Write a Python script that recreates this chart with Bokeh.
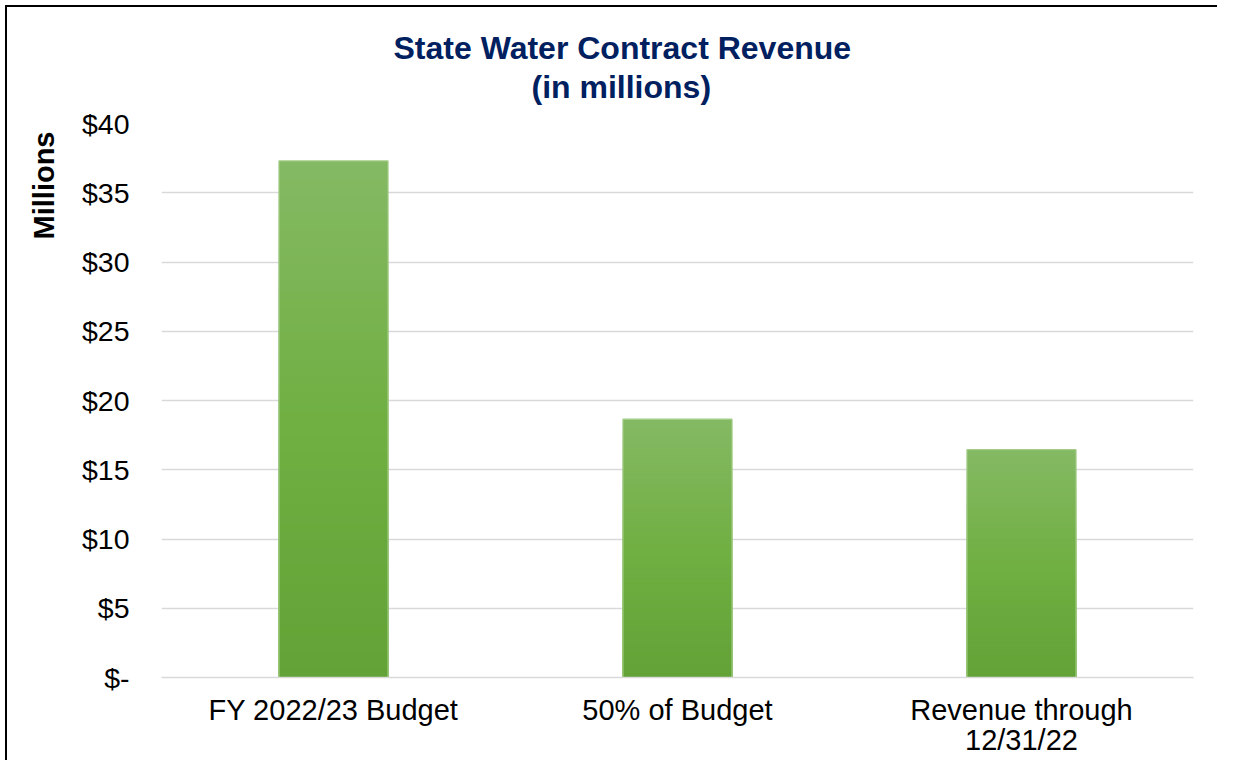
from bokeh.plotting import figure
from bokeh.models import FactorRange, FixedTicker, Title, ColumnDataSource, InlineStyleSheet
from bokeh.embed import file_html
from bokeh.resources import INLINE

categories = ["FY 2022/23 Budget", "50% of Budget", "Revenue through\n12/31/22"]
values = [37.3, 18.65, 16.45]
y_ticks = [0, 5, 10, 15, 20, 25, 30, 35, 40]
y_tick_labels = ["$-", "$5", "$10", "$15", "$20", "$25", "$30", "$35", "$40"]

FONT = "Liberation Sans"

p = figure(x_range=FactorRange(*categories, range_padding=0), y_range=(0, 40),
           width=1217, height=760, output_backend="svg", toolbar_location=None,
           min_border_left=161, min_border_right=24, min_border_top=123, min_border_bottom=83)
p.background_fill_color = "white"
p.border_fill_color = "white"
p.outline_line_color = None
p.stylesheets = [InlineStyleSheet(css=(
    ":host { position: relative; } "
    ":host::after { content: ''; position: absolute; left: 5px; top: 5px; right: 0; bottom: 0; "
    "border-left: 2px solid #000; border-top: 2px solid #000; pointer-events: none; }"))]

# gradient bars: draw full-height first, then progressively shorter darker bars
top_c = (132, 185, 99)
mid_c = (112, 175, 66)
bot_c = (98, 162, 54)
N = 60
def col_at(f):
    if f >= 0.5:
        t = (f - 0.5) / 0.5
        a, b = mid_c, top_c
    else:
        t = f / 0.5
        a, b = bot_c, mid_c
    return "#%02x%02x%02x" % tuple(int(round(a[i] + (b[i] - a[i]) * t)) for i in range(3))

for k in range(N):
    f = (N - k) / N
    src = ColumnDataSource(dict(x=categories, top=[v * f for v in values]))
    p.vbar(x="x", top="top", width=0.317, source=src, fill_color=col_at(f), line_color=None)

p.vbar(x=categories, top=values, width=0.317, fill_color=None, line_color="#a2cc86", line_width=1.2)

p.xgrid.grid_line_color = None
p.ygrid.grid_line_color = "#d9d9d9"
p.ygrid.grid_line_width = 1.5
p.yaxis.ticker = FixedTicker(ticks=y_ticks)
p.yaxis.major_label_overrides = {t: l for t, l in zip(y_ticks, y_tick_labels)}
p.yaxis.axis_line_color = None
p.yaxis.major_tick_line_color = None
p.yaxis.minor_tick_line_color = None
p.yaxis.major_tick_out = 0
p.yaxis.major_label_standoff = 32
p.yaxis.major_label_text_font = FONT
p.yaxis.major_label_text_font_size = "28.5px"
p.yaxis.major_label_text_color = "#000000"

p.xaxis.axis_line_color = "#d9d9d9"
p.xaxis.axis_line_width = 1.5
p.xaxis.major_tick_line_color = None
p.xaxis.major_tick_out = 0
p.xaxis.major_label_standoff = 16
p.xaxis.major_label_text_font = FONT
p.xaxis.major_label_text_font_size = "29px"
p.xaxis.major_label_text_line_height = 0.95
p.xaxis.major_label_text_color = "#000000"

p.add_layout(Title(text="(in millions)", align="left", offset=370, standoff=38, text_font=FONT,
                   text_font_size="32px", text_font_style="bold", text_color="#002060"), "above")
p.add_layout(Title(text="State Water Contract Revenue", align="left", offset=232, standoff=-36, text_font=FONT,
                   text_font_size="32px", text_font_style="bold", text_color="#002060"), "above")
p.add_layout(Title(text="Millions", align="right", offset=8, standoff=37, text_font=FONT,
                   text_font_size="29px", text_font_style="bold", text_color="#000000"), "left")

open("out.html", "w").write(file_html(p, INLINE))
